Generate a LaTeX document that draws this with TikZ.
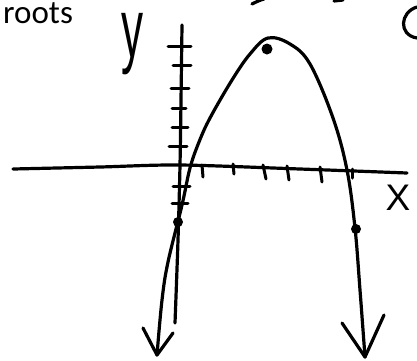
\documentclass[tikz,border=0pt]{standalone}
\usepackage{fontspec}
\newfontfamily\labelfont{Carlito}
\newfontfamily\handfont{Liberation Sans}
\begin{document}
\begin{tikzpicture}[x=1pt,y=-1pt,line cap=round,line join=round,
  ink/.style={line width=3.2pt,black},
  tick/.style={line width=3pt,black},
  dotmark/.style={fill=black,draw=none}]
\useasboundingbox (0,0) rectangle (417,360);
% text labels
\node[anchor=base west,inner sep=0,font=\labelfont\fontsize{33}{33}\selectfont] (roots) at (3,23) {roots};
\node[anchor=base,inner sep=0,font=\handfont\fontsize{37}{37}\selectfont] (xlabel) at (398,210) {X};
\node[inner sep=0,yscale=1.9,font=\handfont\fontsize{44}{44}\selectfont] (ylabel) at (132,44) {y};
% axes
\coordinate (xl) at (13,169);
\coordinate (xr) at (407,173);
\coordinate (yt) at (182,25);
\coordinate (yb) at (175,323);
\draw[ink] plot[smooth] coordinates {(xl) (100,167) (180,165) (300,169) (xr)};
\draw[ink] plot[smooth] coordinates {(yt) (181,100) (180,165) (178,240) (yb)};
% y ticks
\foreach \ya/\xa/\xb in {46/168/191,65/173/191,88/171/189,108/172/186,127/172/188,146/169/187,186/173/190,203/172/188}
  \draw[tick] (\xa,\ya) -- (\xb,\ya);
% x ticks
\foreach \xa/\ya/\xb/\yb in {202/165/203/177,233/164/234/174,263/165/266/179,287/166/289/180,320/167/322/182,352/169/352/178}
  \draw[tick] (\xa,\ya) -- (\xb,\yb);
% parabola
\coordinate (lt) at (157,355);
\coordinate (rt) at (365,357);
\draw[ink] plot[smooth,tension=0.6] coordinates {(lt) (162,300) (168,262) (182,205) (190,168) (199,142) (210,118) (232,80) (250,54) (268,38) (290,44) (310,64) (333,118) (347,170) (355,228) (360,290) (rt)};
% arrowheads
\coordinate (la) at (143,328);
\coordinate (lb) at (173,333);
\coordinate (ra) at (342,323);
\coordinate (rb) at (384,315);
\draw[ink] (la) -- (lt) -- (lb);
\draw[ink] (ra) -- (rt) -- (rb);
% points
\fill[dotmark] (267,49) circle (5.5);
\fill[dotmark] (178,222) circle (5);
\fill[dotmark] (356,229) circle (5);
% cut-off strokes at the top edge
\draw[ink] (252,4) .. controls (256,2) and (260,0) .. (264,-1);
\draw[ink] (334,1) -- (343,0);
\draw[ink] (417,7) .. controls (400,12) and (398,35) .. (417,38);
\end{tikzpicture}
\end{document}
